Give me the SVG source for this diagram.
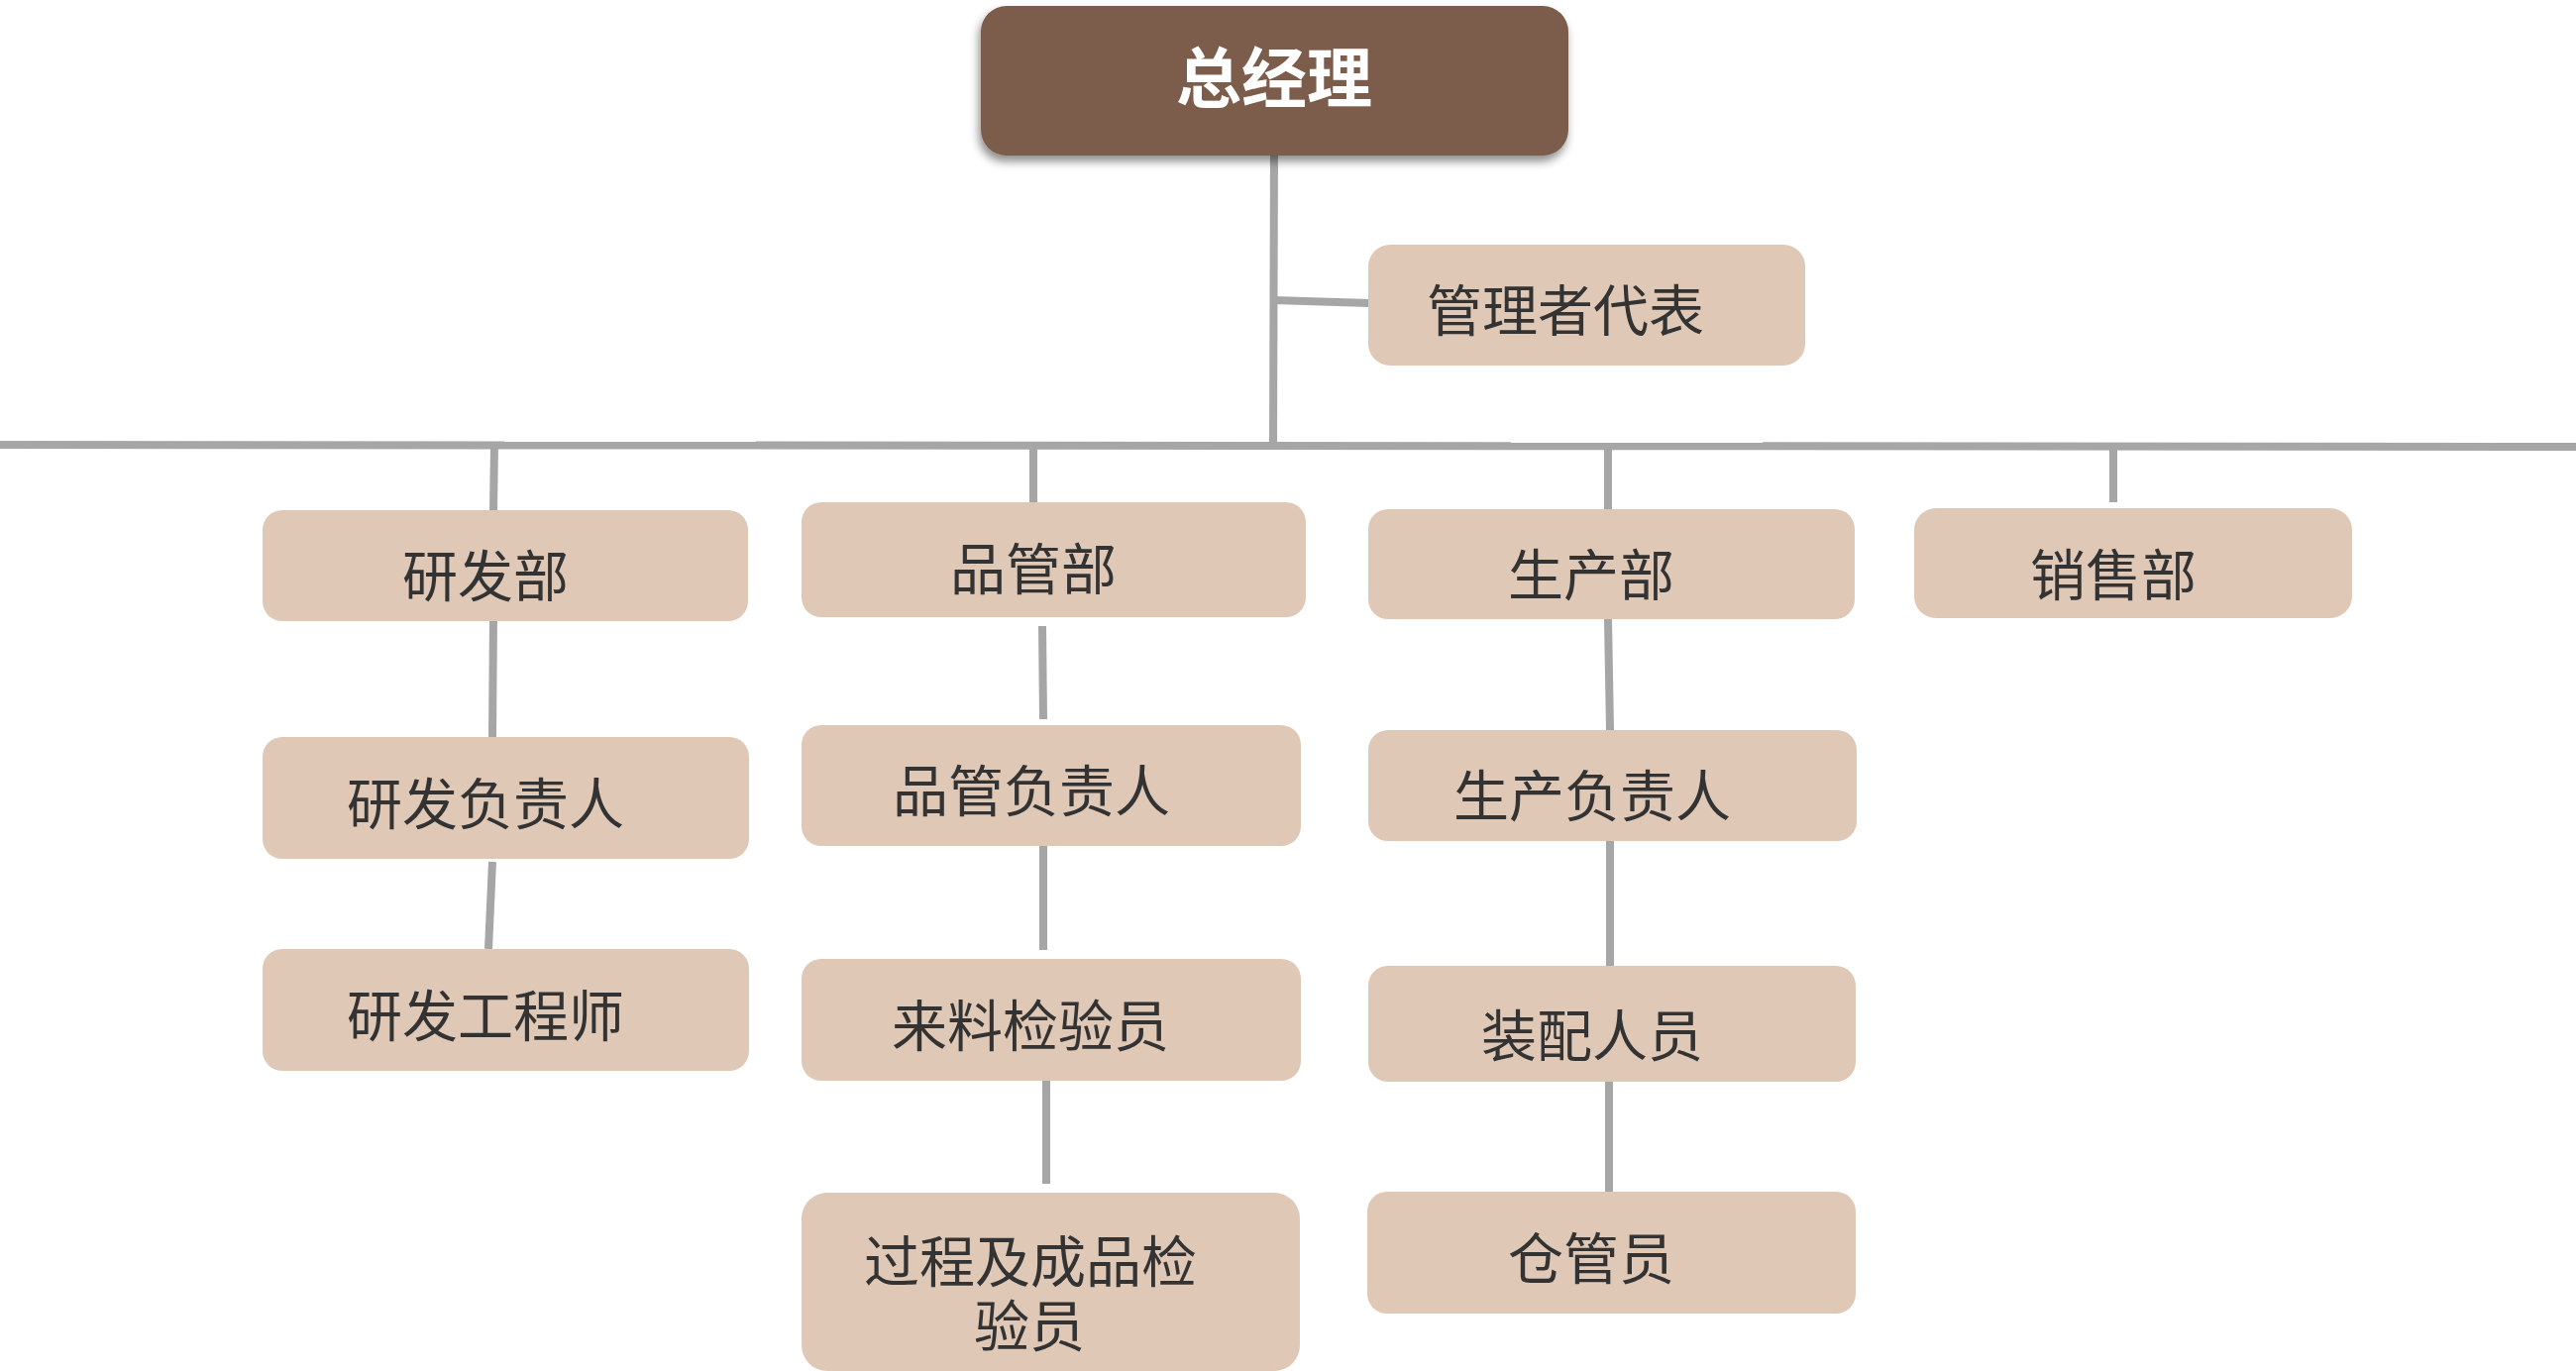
<svg xmlns="http://www.w3.org/2000/svg" width="2600" height="1384" viewBox="0 0 2600 1384">
<defs>
<style>
.c{stroke:#A6A6A6;stroke-width:8;fill:none;stroke-linecap:butt}
.b{fill:#E0C8B6}
.t{font-family:"Noto Sans CJK SC","Noto Sans",sans-serif;font-size:56px;fill:#333333;text-anchor:middle}
.h{font-family:"Noto Sans CJK SC","Noto Sans",sans-serif;font-size:66px;font-weight:bold;fill:#FFFFFF;text-anchor:middle}
</style>
<filter id="sh" x="-10%" y="-20%" width="125%" height="150%">
<feDropShadow dx="-2" dy="6" stdDeviation="5" flood-color="#000000" flood-opacity="0.45"/>
</filter>
</defs>
<rect width="2600" height="1384" fill="#FFFFFF"/>
<g id="connectors">
<line class="c" x1="1286" y1="150" x2="1285" y2="452"/>
<line class="c" x1="1285" y1="303" x2="1382" y2="306"/>
<line class="c" x1="0" y1="449" x2="2600" y2="451"/>
<line class="c" x1="499" y1="450" x2="498" y2="515"/>
<line class="c" x1="498" y1="620" x2="497" y2="744"/>
<line class="c" x1="497" y1="870" x2="493" y2="958"/>
<line class="c" x1="1043" y1="450" x2="1043" y2="507"/>
<line class="c" x1="1052" y1="632" x2="1053" y2="726"/>
<line class="c" x1="1053" y1="854" x2="1053" y2="959"/>
<line class="c" x1="1056" y1="1091" x2="1056" y2="1195"/>
<line class="c" x1="1623" y1="451" x2="1623" y2="514"/>
<line class="c" x1="1623" y1="625" x2="1625" y2="737"/>
<line class="c" x1="1625" y1="849" x2="1625" y2="975"/>
<line class="c" x1="1624" y1="1092" x2="1624" y2="1203"/>
<line class="c" x1="2133" y1="451" x2="2133" y2="507"/>
</g>
<g id="n-gm">
<rect x="990" y="6" width="593" height="151" rx="26" fill="#7B5B4B" filter="url(#sh)"/>
<text class="h" x="1286" y="103">总经理</text>
</g>
<g id="n-rep">
<rect class="b" x="1381" y="247" width="441" height="122" rx="22"/>
<text class="t" x="1580" y="334">管理者代表</text>
</g>
<g id="n-rd">
<rect class="b" x="265" y="515" width="490" height="112" rx="20"/>
<text class="t" x="490" y="602">研发部</text>
</g>
<g id="n-rd-lead">
<rect class="b" x="265" y="744" width="491" height="123" rx="20"/>
<text class="t" x="490" y="832">研发负责人</text>
</g>
<g id="n-rd-eng">
<rect class="b" x="265" y="958" width="491" height="123" rx="20"/>
<text class="t" x="490" y="1046">研发工程师</text>
</g>
<g id="n-qa">
<rect class="b" x="809" y="507" width="509" height="116" rx="20"/>
<text class="t" x="1043" y="595">品管部</text>
</g>
<g id="n-qa-lead">
<rect class="b" x="809" y="732" width="504" height="122" rx="20"/>
<text class="t" x="1041" y="819">品管负责人</text>
</g>
<g id="n-iqc">
<rect class="b" x="809" y="968" width="504" height="123" rx="20"/>
<text class="t" x="1040" y="1056">来料检验员</text>
</g>
<g id="n-pqc">
<rect class="b" x="809" y="1204" width="503" height="180" rx="26"/>
<text class="t"><tspan x="1040" y="1294">过程及成品检</tspan><tspan x="1039" y="1359">验员</tspan></text>
</g>
<g id="n-prod">
<rect class="b" x="1381" y="514" width="491" height="111" rx="20"/>
<text class="t" x="1606" y="601">生产部</text>
</g>
<g id="n-prod-lead">
<rect class="b" x="1381" y="737" width="493" height="112" rx="20"/>
<text class="t" x="1607" y="824">生产负责人</text>
</g>
<g id="n-asm">
<rect class="b" x="1381" y="975" width="492" height="117" rx="20"/>
<text class="t" x="1607" y="1066">装配人员</text>
</g>
<g id="n-wh">
<rect class="b" x="1380" y="1203" width="493" height="123" rx="20"/>
<text class="t" x="1606" y="1291">仓管员</text>
</g>
<g id="n-sales">
<rect class="b" x="1932" y="513" width="442" height="111" rx="22"/>
<text class="t" x="2133" y="601">销售部</text>
</g>
</svg>
